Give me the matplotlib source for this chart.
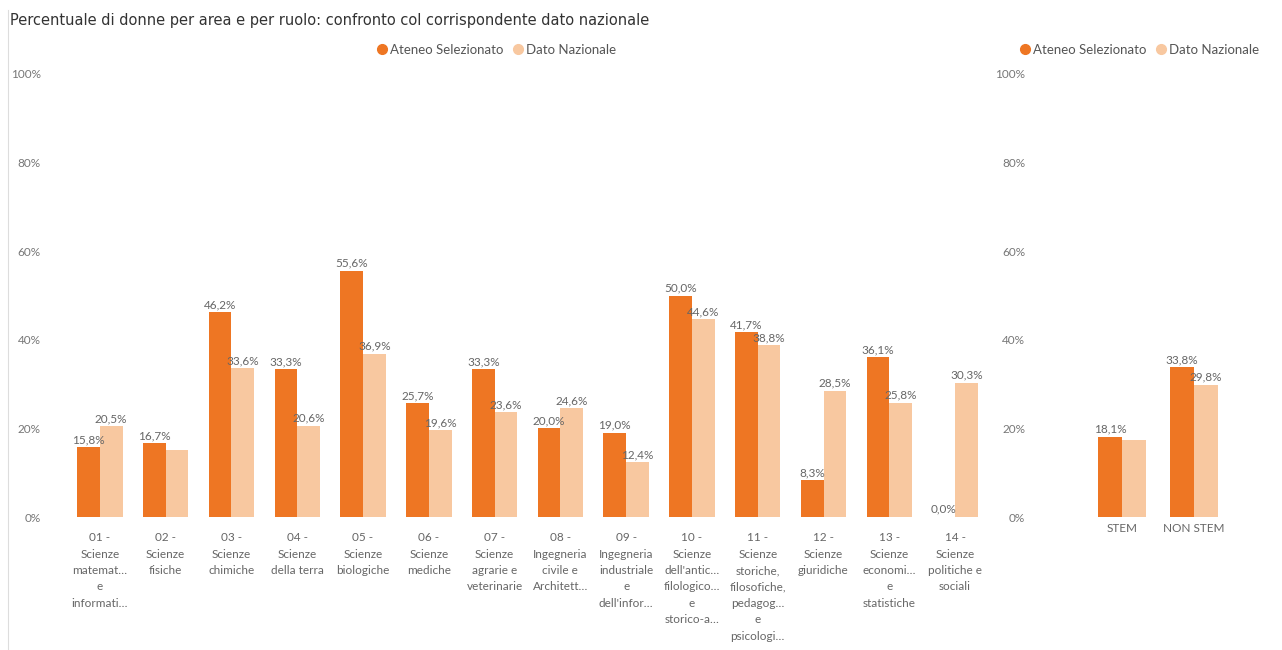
import matplotlib
matplotlib.use("Agg")
import numpy as np
import matplotlib.pyplot as plt
from matplotlib.lines import Line2D

# ---------------------------------------------------------------------
# -- data -------------------------------------------------------------
aree = ["01 -\nScienze\nmatemat…\ne\ninformati…",
        "02 -\nScienze\nfisiche",
        "03 -\nScienze\nchimiche",
        "04 -\nScienze\ndella terra",
        "05 -\nScienze\nbiologiche",
        "06 -\nScienze\nmediche",
        "07 -\nScienze\nagrarie e\nveterinarie",
        "08 -\nIngegneria\ncivile e\nArchitett…",
        "09 -\nIngegneria\nindustriale\ne\ndell'infor…",
        "10 -\nScienze\ndell'antic…\nfilologico…\ne\nstorico-a…",
        "11 -\nScienze\nstoriche,\nfilosofiche,\npedagog…\ne\npsicologi…",
        "12 -\nScienze\ngiuridiche",
        "13 -\nScienze\neconomi…\ne\nstatistiche",
        "14 -\nScienze\npolitiche e\nsociali"]
ateneo = [15.8, 16.7, 46.2, 33.3, 55.6, 25.7, 33.3, 20.0, 19.0, 50.0, 41.7, 8.3, 36.1, 0.0]
nazionale = [20.5, 15.1, 33.6, 20.6, 36.9, 19.6, 23.6, 24.6, 12.4, 44.6, 38.8, 28.5, 25.8, 30.3]
# Power BI hides some overlapping labels
nazionale_label = [True, False] + [True] * 12

gruppi = ["STEM", "NON STEM"]
ateneo_g = [18.1, 33.8]
nazionale_g = [17.3, 29.8]
nazionale_g_label = [False, True]

yticks = [0, 20, 40, 60, 80, 100]

C_ATENEO = "#EE7623"
C_NAZ = "#F8C8A0"
C_TEXT = "#666666"
FONT = ["Lato", "DejaVu Sans"]


def fmt(v):
    return "{:.1f}%".format(v).replace(".", ",")


def bars(ax, cats, a, n, show_n, width):
    x = np.arange(len(cats))
    ax.bar(x - width / 2, a, width, color=C_ATENEO)
    ax.bar(x + width / 2, n, width, color=C_NAZ)
    for xi, v in zip(x, a):
        ax.annotate(fmt(v), (xi - width / 2, v), xytext=(0, 1.5), textcoords="offset points",
                    ha="center", va="bottom", fontsize=8.5, color=C_TEXT, family=FONT)
    for xi, v, s in zip(x, n, show_n):
        if s:
            ax.annotate(fmt(v), (xi + width / 2, v), xytext=(0, 1.5), textcoords="offset points",
                        ha="center", va="bottom", fontsize=8.5, color=C_TEXT, family=FONT)
    ax.set_xticks(x)
    ax.set_xticklabels(cats, fontsize=8.5, color=C_TEXT, linespacing=1.6, va="top", family=FONT)
    ax.set_ylim(0, 100)
    ax.set_yticks(yticks)
    ax.set_yticklabels(["{}%".format(t) for t in yticks], fontsize=8.5, color="#777777", family=FONT)
    ax.tick_params(axis="both", length=0)
    ax.tick_params(axis="x", pad=11)
    ax.tick_params(axis="y", pad=19)
    for sp in ax.spines.values():
        sp.set_visible(False)


def legend(ax, x):
    handles = [Line2D([], [], marker="o", linestyle="", color=C_ATENEO, markersize=7),
               Line2D([], [], marker="o", linestyle="", color=C_NAZ, markersize=7)]
    ax.legend(handles, ["Ateneo Selezionato", "Dato Nazionale"], loc="center",
              bbox_to_anchor=(x, 0.923), bbox_transform=ax.figure.transFigure,
              ncol=2, frameon=False, prop={"family": FONT, "size": 9.5}, labelcolor="#555555",
              handletextpad=0.1, columnspacing=0.6, handlelength=1.0)


W, H = 1282, 650
fig = plt.figure(figsize=(W / 100, H / 100), dpi=100)

ax1 = fig.add_axes([67 / W, 133 / H, (988 - 67) / W, 443 / H])
bars(ax1, aree, ateneo, nazionale, nazionale_label, 0.345)
ax1.set_xlim(-0.5, len(aree) - 0.5)
legend(ax1, 496 / W)

ax2 = fig.add_axes([1060 / W, 133 / H, (1265 - 1060) / W, 443 / H])
bars(ax2, gruppi, ateneo_g, nazionale_g, nazionale_g_label, 0.33)
ax2.set_xlim(-0.86, 1.99)
ax2.tick_params(axis="y", pad=25)
ax2.tick_params(axis="x", pad=4)
legend(ax2, 1139 / W)

fig.text(10 / W, 1 - 20 / H, "Percentuale di donne per area e per ruolo: confronto col corrispondente dato nazionale",
         fontsize=10.5, color="#333333", va="center", ha="left")
fig.add_artist(Line2D([8 / W, 8 / W], [0, 1 - 10 / H], color="#dddddd", linewidth=0.8))

fig.savefig("out.png", dpi=100, facecolor="white")
